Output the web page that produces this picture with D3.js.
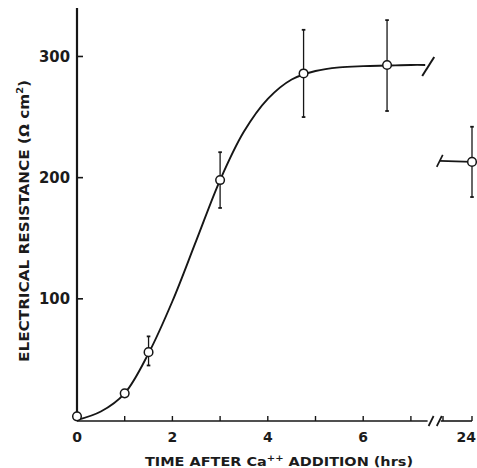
<!DOCTYPE html>
<html>
  <head>
    <meta charset="utf-8">
    <title>Electrical resistance after Ca++ addition</title>
    <script type="text/javascript" src="https://cdn.jsdelivr.net/npm/d3@7"></script>
    <style>
      body { margin: 0; background: #fff; }
      text { font-family: "DejaVu Sans", sans-serif; fill: #1b1b1b; font-weight: bold; }
    </style>
  </head>
  <body>
    <script>

// measured points (hours, ohm cm2) with error bars
var times = [0, 1, 1.5, 3, 4.75, 6.5, 24];
var means = [3, 22, 56, 198, 286, 293, 213];
var errLow = [null, null, 45, 175, 250, 255, 184];
var errHigh = [null, null, 69, 221, 322, 330, 242];

// hand drawn fitted curve
var curveTimes = [0, 0.5, 1, 1.5, 2, 2.5, 3, 3.5, 4, 4.5, 5, 5.5, 6, 6.5, 7, 7.3];
var curveValues = [0, 7, 22, 55, 98, 148, 198, 238, 265, 281, 288, 291, 292, 292.5, 293, 293];

// axis ticks
var xTicks = [1, 2, 3, 4, 5, 6, 7, 23, 24];
var xTickLabels = [0, 2, 4, 6, 24];
var yTicks = [100, 200, 300];

var w = 477;
var h = 468;
var ink = "#161616";

var svg = d3.select("body")
  .append("svg")
  .attr("width", w)
  .attr("height", h);

// broken time axis: 0-7.5 h, then a short stretch up to 24 h
var x = d3.scaleLinear()
  .domain([0, 7.5, 23, 24])
  .range([77, 434.75, 443, 472]);

var y = d3.scaleLinear()
  .domain([0, 340])
  .range([420, 8]);

var axisY = 421;

// y axis
svg.append("line")
  .attr("x1", x(0)).attr("x2", x(0))
  .attr("y1", y(340)).attr("y2", axisY)
  .attr("stroke", ink).attr("stroke-width", 2.2);

svg.selectAll(".ytick")
  .data(yTicks)
  .enter()
  .append("line")
  .attr("x1", x(0)).attr("x2", x(0) + 6)
  .attr("y1", function(d){ return y(d); })
  .attr("y2", function(d){ return y(d); })
  .attr("stroke", ink).attr("stroke-width", 1.6);

svg.selectAll(".ylab")
  .data(yTicks)
  .enter()
  .append("text")
  .attr("x", x(0) - 7)
  .attr("y", function(d){ return y(d) + 5.5; })
  .attr("text-anchor", "end")
  .attr("font-size", 15)
  .attr("textLength", 31)
  .attr("lengthAdjust", "spacingAndGlyphs")
  .text(function(d){ return d; });

// x axis, in two pieces with break marks
svg.append("line")
  .attr("x1", x(0)).attr("x2", x(7.35))
  .attr("y1", axisY).attr("y2", axisY)
  .attr("stroke", ink).attr("stroke-width", 1.6);
svg.append("line")
  .attr("x1", x(7.5) + 6).attr("x2", x(24))
  .attr("y1", axisY).attr("y2", axisY)
  .attr("stroke", ink).attr("stroke-width", 1.6);

[x(7.35) + 1, x(7.5) + 2].forEach(function(bx){
  svg.append("line")
    .attr("x1", bx).attr("x2", bx + 5)
    .attr("y1", axisY + 5).attr("y2", axisY - 5)
    .attr("stroke", ink).attr("stroke-width", 1.7);
});

svg.selectAll(".xtick")
  .data(xTicks)
  .enter()
  .append("line")
  .attr("x1", function(d){ return x(d); })
  .attr("x2", function(d){ return x(d); })
  .attr("y1", axisY).attr("y2", axisY - 5)
  .attr("stroke", ink).attr("stroke-width", 1.4);

svg.selectAll(".xlab")
  .data(xTickLabels)
  .enter()
  .append("text")
  .attr("x", function(d){ return d === 24 ? 476 : x(d); })
  .attr("y", 442)
  .attr("text-anchor", function(d){ return d === 24 ? "end" : "middle"; })
  .attr("font-size", 14)
  .text(function(d){ return d; });

// axis titles
var xt = svg.append("text")
  .attr("x", 279)
  .attr("y", 466)
  .attr("text-anchor", "middle")
  .attr("font-size", 13)
  .attr("textLength", 268)
  .attr("lengthAdjust", "spacingAndGlyphs");
xt.append("tspan").text("TIME AFTER Ca");
xt.append("tspan").attr("font-size", 9).attr("dy", -5).text("++");
xt.append("tspan").attr("dy", 5).text(" ADDITION (hrs)");

var yt = svg.append("text")
  .attr("transform", "translate(29,221) rotate(-90)")
  .attr("text-anchor", "middle")
  .attr("font-size", 14)
  .attr("textLength", 282)
  .attr("lengthAdjust", "spacingAndGlyphs");
yt.append("tspan").text("ELECTRICAL RESISTANCE (\u03A9 cm");
yt.append("tspan").attr("font-size", 9).attr("dy", -6).text("2");
yt.append("tspan").attr("dy", 6).text(")");

// fitted curve
var line = d3.line()
  .x(function(d){ return x(d[0]); })
  .y(function(d){ return y(d[1]); })
  .curve(d3.curveCatmullRom);

var curveData = curveTimes.map(function(t, i){ return [t, curveValues[i]]; });

svg.append("path")
  .datum(curveData)
  .attr("d", line)
  .attr("fill", "none")
  .attr("stroke", ink)
  .attr("stroke-width", 1.9);

// break mark at the end of the curve
var endT = curveTimes[curveTimes.length - 1];
var endV = curveValues[curveValues.length - 1];
svg.append("line")
  .attr("x1", x(endT) - 3).attr("x2", x(endT) + 9)
  .attr("y1", y(endV) + 11).attr("y2", y(endV) - 8)
  .attr("stroke", ink).attr("stroke-width", 2);

// 24 h point: short stub back to a break mark
var last = times.length - 1;
svg.append("line")
  .attr("x1", x(times[last])).attr("x2", x(7.5) + 5)
  .attr("y1", y(means[last])).attr("y2", y(means[last]) - 1)
  .attr("stroke", ink).attr("stroke-width", 1.7);
svg.append("line")
  .attr("x1", x(7.5) + 2).attr("x2", x(7.5) + 8)
  .attr("y1", y(means[last]) + 5).attr("y2", y(means[last]) - 7)
  .attr("stroke", ink).attr("stroke-width", 1.7);

// error bars
var pts = times.map(function(t, i){
  return { t: t, v: means[i], lo: errLow[i], hi: errHigh[i] };
});
var withErr = pts.filter(function(d){ return d.lo !== null; });

svg.selectAll(".err")
  .data(withErr)
  .enter()
  .append("line")
  .attr("x1", function(d){ return x(d.t); })
  .attr("x2", function(d){ return x(d.t); })
  .attr("y1", function(d){ return y(d.lo); })
  .attr("y2", function(d){ return y(d.hi); })
  .attr("stroke", ink).attr("stroke-width", 1.3);

withErr.forEach(function(d){
  [d.lo, d.hi].forEach(function(v){
    svg.append("line")
      .attr("x1", x(d.t) - 1.8).attr("x2", x(d.t) + 1.8)
      .attr("y1", y(v)).attr("y2", y(v))
      .attr("stroke", ink).attr("stroke-width", 1.8);
  });
});

// open circles
svg.selectAll(".pt")
  .data(pts)
  .enter()
  .append("circle")
  .attr("cx", function(d){ return x(d.t); })
  .attr("cy", function(d){ return y(d.v); })
  .attr("r", 4.3)
  .attr("fill", "#fff")
  .attr("stroke", ink)
  .attr("stroke-width", 1.5);

    </script>
  </body>
</html>
